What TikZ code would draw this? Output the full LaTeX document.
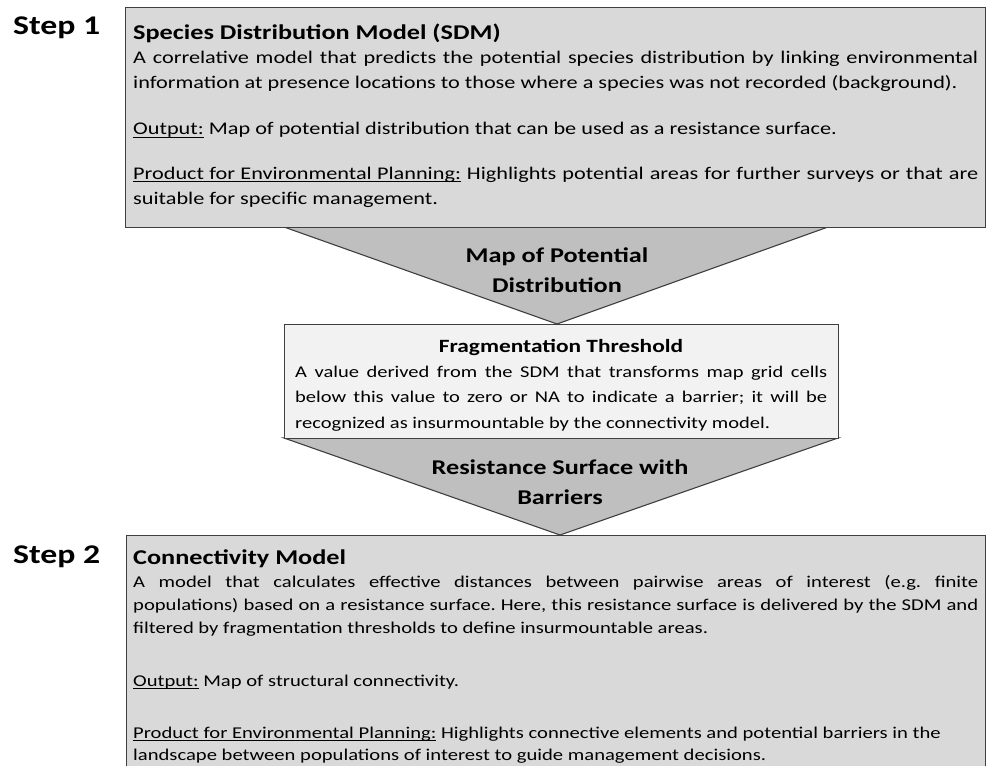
\documentclass[tikz,border=0pt]{standalone}
\usepackage{fontspec}
\setmainfont{Carlito}[FakeStretch=1.25]
\frenchspacing
\newcommand\ulw[1]{\setbox0\hbox{#1}\leaders\hrule height -2.2pt depth 3.2pt\hskip\wd0\kern-\wd0\box0\relax}
\newcommand\uls{\leaders\hrule height -2.2pt depth 3.2pt\hskip\fontdimen2\font plus\fontdimen3\font minus\fontdimen4\font\relax}
\definecolor{boxgray}{HTML}{D9D9D9}
\definecolor{trigray}{HTML}{BFBFBF}
\definecolor{lightbox}{HTML}{F2F2F2}
\definecolor{edge}{HTML}{3F3F3F}
\newcommand\tightsp{\spaceskip=\fontdimen2\font plus 0.6em minus 0.12em\relax}
\tikzset{
  panel/.style={draw=edge, line width=1.3pt, inner sep=0, anchor=north west},
  funnel/.style={draw=edge, line width=1.1pt, fill=trigray, line join=miter},
  steplabel/.style={anchor=base west, inner sep=0, font=\bfseries\fontsize{27}{30}\selectfont},
  boxtitle/.style={anchor=base west, inner sep=0, font=\bfseries\fontsize{21}{24}\selectfont},
  bodytop/.style={anchor=base west, inner sep=0, text width=845pt, align=justify, font=\fontsize{17.8}{25}\selectfont\tightsp},
  bodybot/.style={anchor=base west, inner sep=0, text width=845pt, align=justify, font=\fontsize{16.5}{23}\selectfont\tightsp},
  bodymid/.style={anchor=base west, inner sep=0, text width=532pt, align=justify, font=\fontsize{16.4}{25.5}\selectfont\tightsp},
  funneltext/.style={anchor=base, inner sep=0, align=center, font=\bfseries\fontsize{21}{30}\selectfont},
}
\begin{document}
\begin{tikzpicture}[x=1pt,y=1pt]
\useasboundingbox (0,0) rectangle (987,-765);
% funnel corner points
\coordinate (f1l) at (284,-227);
\coordinate (f1r) at (828,-227);
\coordinate (f1a) at (557,-324);
\coordinate (f2l) at (284,-438);
\coordinate (f2r) at (838,-438);
\coordinate (f2a) at (560,-535);
\draw[funnel] (f1l) -- (f1a) -- (f1r) -- cycle;
\draw[funnel] (f2l) -- (f2a) -- (f2r) -- cycle;
% boxes
\node[panel, fill=boxgray, minimum width=860pt, minimum height=220pt] (sdm) at (125,-7) {};
\node[panel, fill=lightbox, minimum width=554pt, minimum height=114pt] (frag) at (284,-324) {};
\node[panel, fill=boxgray, minimum width=859pt, minimum height=280pt] (conn) at (126,-535) {};
% step labels
\node[steplabel] (s1) at (13,-35) {Step 1};
\node[steplabel] (s2) at (13,-563) {Step 2};
% SDM box text
\node[boxtitle] (sdmt) at (133,-40) {Species Distribution Model (SDM)};
\node[bodytop] (sdmp1) at (133,-64) {A correlative model that predicts the potential species distribution by linking environmental\linebreak information at presence locations to those where a species was not recorded (background).};
\node[bodytop] (sdmp2) at (133,-135) {\ulw{Output:} Map of potential distribution that can be used as a resistance surface.};
\node[bodytop] (sdmp3) at (133,-179) {\ulw{Product}\uls\ulw{for}\uls\ulw{Environmental}\uls\ulw{Planning:} Highlights potential areas for further surveys or that are\linebreak suitable for specific management.};
% funnel 1 text
\node[funneltext] (f1t) at (557,-292) {Map of Potential\\Distribution};
% fragmentation box
\node[boxtitle, anchor=base, font=\bfseries\fontsize{18.7}{24}\selectfont] (fragt) at (561,-352) {Fragmentation Threshold};
\node[bodymid] (fragp) at (295,-377) {A value derived from the SDM that transforms map grid cells\linebreak below this value to zero or NA to indicate a barrier; it will be\linebreak recognized as insurmountable by the connectivity model.};
% funnel 2 text
\node[funneltext] (f2t) at (560,-504) {Resistance Surface with\\Barriers};
% connectivity box text
\node[boxtitle] (connt) at (133,-564) {Connectivity Model};
\node[bodybot] (connp1) at (133,-587) {A model that calculates effective distances between pairwise areas of interest (e.g. finite\linebreak populations) based on a resistance surface. Here, this resistance surface is delivered by the SDM and\linebreak filtered by fragmentation thresholds to define insurmountable areas.};
\node[bodybot] (connp2) at (133,-686) {\ulw{Output:} Map of structural connectivity.};
\node[bodybot, font=\fontsize{16.5}{22}\selectfont\tightsp] (connp3) at (133,-738) {\ulw{Product}\uls\ulw{for}\uls\ulw{Environmental}\uls\ulw{Planning:} Highlights connective elements and potential barriers in the\\landscape between populations of interest to guide management decisions.};
\end{tikzpicture}
\end{document}
